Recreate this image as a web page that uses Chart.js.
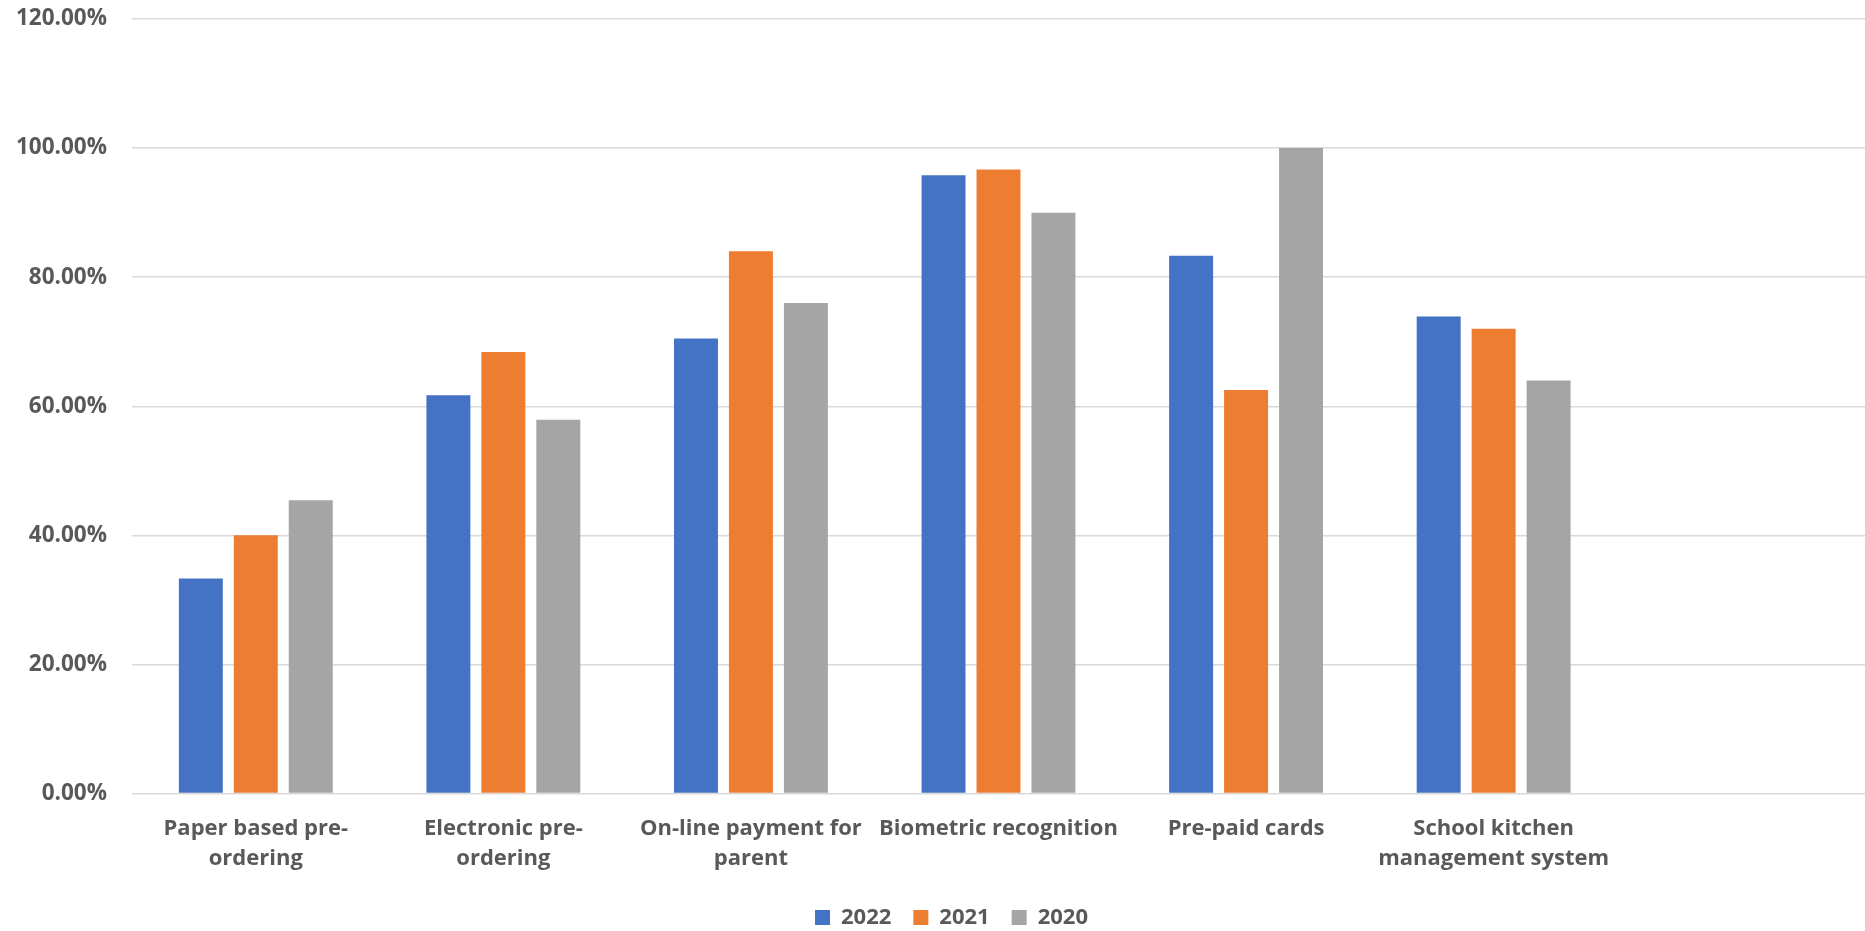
<!DOCTYPE html>
<html>
<head>
<meta charset="utf-8">
<script src="https://cdn.jsdelivr.net/npm/chart.js@4"></script>
<style>
  html, body { margin: 0; padding: 0; background: #ffffff; }
  #wrap { width: 1865px; height: 931px; position: relative; }
</style>
</head>
<body>
<div id="wrap"><canvas id="c"></canvas></div>
<script>
const categories = [
  ["Paper based pre-", "ordering"],
  ["Electronic pre-", "ordering"],
  ["On-line payment for", "parent"],
  "Biometric recognition",
  "Pre-paid cards",
  ["School kitchen", "management system"],
  ""
];
const seriesNames = ["2022", "2021", "2020"];
const values2022 = [33.33, 61.7, 70.5, 95.8, 83.3, 73.9, null];
const values2021 = [40.0, 68.4, 84.0, 96.7, 62.5, 72.0, null];
const values2020 = [45.45, 57.9, 76.0, 90.0, 100.0, 64.0, null];
const yTicks = { min: 0, max: 120, step: 20 };

const colors = ["#4472C4", "#ED7D31", "#A5A5A5"];
const textColor = "#595959";
const fontFamily = "'Open Sans', Lato, sans-serif";

// shift legend slightly right of canvas centre, as in the reference
const legendShift = {
  id: 'legendShift',
  afterLayout(chart) {
    if (chart.legend) { chart.legend.left += 19; chart.legend.right += 19; }
  }
};

new Chart(document.getElementById('c'), {
  type: 'bar',
  data: {
    labels: categories,
    datasets: [values2022, values2021, values2020].map((d, i) => ({
      label: seriesNames[i],
      data: d,
      backgroundColor: colors[i],
      borderWidth: 0,
      barPercentage: 0.8,
      categoryPercentage: 0.666
    }))
  },
  plugins: [legendShift],
  options: {
    responsive: true,
    maintainAspectRatio: false,
    animation: false,
    layout: { padding: { top: 19, left: 0, right: 0, bottom: -7.5 } },
    plugins: {
      legend: {
        position: 'bottom',
        labels: {
          color: textColor,
          font: { family: fontFamily, size: 22, weight: 'bold' },
          boxWidth: 15,
          boxHeight: 15,
          padding: 22
        }
      },
      tooltip: { enabled: false }
    },
    scales: {
      x: {
        grid: { display: false, drawTicks: false },
        border: { display: false },
        afterFit: (scale) => { scale.height = 91; scale.paddingLeft = 0; scale.paddingRight = 0; },
        ticks: {
          color: textColor,
          font: { family: fontFamily, size: 22, weight: 'bold', lineHeight: 1.36 },
          maxRotation: 0,
          minRotation: 0,
          autoSkip: false,
          padding: 20
        }
      },
      y: {
        min: yTicks.min,
        max: yTicks.max,
        grid: { color: "#D9D9D9", lineWidth: 1.5, drawTicks: false },
        border: { display: false },
        afterFit: (scale) => { scale.width = 132; scale.paddingTop = 0; scale.paddingBottom = 0; },
        ticks: {
          stepSize: yTicks.step,
          color: textColor,
          font: { family: fontFamily, size: 22.5, weight: 'bold' },
          padding: 25,
          callback: (v) => v.toFixed(2) + '%'
        }
      }
    }
  }
});
</script>
</body>
</html>
